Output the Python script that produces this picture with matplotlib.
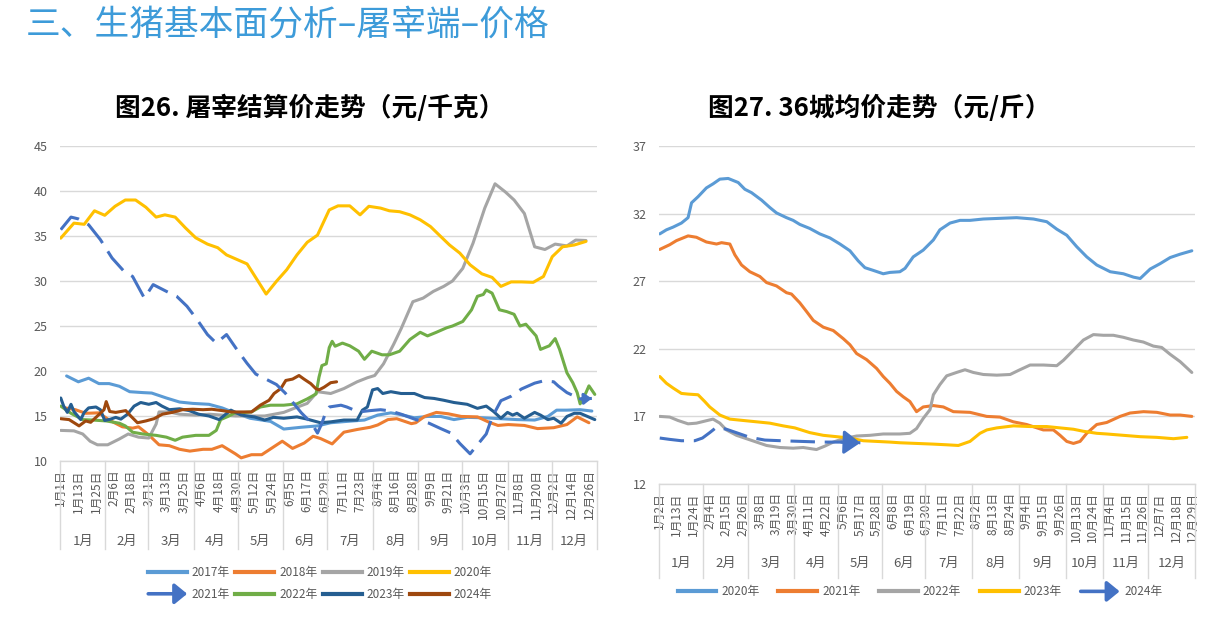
import matplotlib
matplotlib.use('Agg')
import matplotlib.pyplot as plt
from matplotlib.lines import Line2D
from matplotlib.patches import FancyArrowPatch
from matplotlib.legend_handler import HandlerBase

plt.rcParams['font.family'] = ['Noto Sans CJK SC', 'DejaVu Sans']

# ---------------- data: left chart (屠宰结算价, 元/千克) ----------------
left_tick_labels = ['1月1日', '1月13日', '1月25日', '2月6日', '2月18日', '3月1日', '3月13日', '3月25日',
                    '4月6日', '4月18日', '4月30日', '5月12日', '5月24日', '6月5日', '6月17日', '6月29日',
                    '7月11日', '7月23日', '8月4日', '8月16日', '8月28日', '9月9日', '9月21日', '10月3日',
                    '10月15日', '10月27日', '11月8日', '11月20日', '12月2日', '12月14日', '12月26日']
months = ['1月', '2月', '3月', '4月', '5月', '6月', '7月', '8月', '9月', '10月', '11月', '12月']
left_month_bounds = [0, 31, 60, 91, 121, 152, 182, 213, 244, 274, 305, 335, 366]

d2017 = [4, 12, 19, 26, 33, 40, 47, 56, 62, 72, 81, 90, 101, 110, 117, 129, 143, 152, 164, 175, 184, 195,
         207, 216, 225, 232, 241, 250, 259, 268, 277, 288, 300, 311, 323, 332, 338, 345, 354, 362]
v2017 = [19.45, 18.8, 19.2, 18.6, 18.6, 18.3, 17.7, 17.6, 17.55, 17.0, 16.55, 16.4, 16.3, 15.9, 15.45, 14.75,
         14.4, 13.55, 13.75, 13.9, 14.25, 14.4, 14.55, 15.1, 15.35, 15.15, 14.8, 14.95, 14.95, 14.6, 14.85,
         14.8, 14.7, 14.6, 14.55, 14.95, 15.65, 15.65, 15.7, 15.55]

d2018 = [3, 10, 17, 26, 33, 42, 49, 53, 60, 67, 74, 81, 88, 97, 103, 110, 119, 123, 130, 137, 144, 151, 158,
         166, 172, 177, 185, 193, 202, 211, 216, 223, 229, 239, 242, 248, 256, 264, 273, 284, 292, 298, 305,
         316, 325, 336, 345, 352, 360]
v2018 = [15.9, 15.7, 15.3, 15.35, 14.55, 13.8, 13.65, 13.8, 12.9, 11.8, 11.7, 11.3, 11.1, 11.3, 11.3, 11.7,
         10.8, 10.35, 10.7, 10.7, 11.45, 12.2, 11.4, 12.0, 12.75, 12.5, 11.9, 13.2, 13.5, 13.75, 14.0, 14.6,
         14.7, 14.15, 14.25, 14.95, 15.4, 15.25, 14.95, 14.9, 14.3, 13.95, 14.05, 13.95, 13.6, 13.7, 14.05,
         14.9, 14.25]

d2019 = [0, 9, 15, 20, 25, 32, 40, 46, 53, 60, 65, 67, 74, 81, 92, 101, 110, 119, 139, 152, 159, 168, 175,
         184, 193, 202, 209, 214, 220, 227, 232, 240, 247, 254, 261, 267, 274, 281, 289, 296, 303, 309, 316,
         323, 330, 337, 345, 351, 358]
v2019 = [13.4, 13.35, 13.0, 12.2, 11.8, 11.8, 12.45, 13.0, 12.65, 12.55, 14.1, 15.45, 15.45, 15.2, 15.1,
         15.2, 15.1, 15.0, 15.0, 15.4, 15.85, 16.4, 17.7, 17.5, 18.05, 18.8, 19.25, 19.5, 20.8, 23.0, 24.7,
         27.7, 28.1, 28.85, 29.4, 30.0, 31.4, 34.2, 38.1, 40.8, 39.9, 39.0, 37.5, 33.8, 33.5, 34.1, 33.9,
         34.55, 34.5]

d2020 = [0, 9, 16, 23, 30, 37, 44, 51, 58, 65, 71, 78, 85, 92, 100, 107, 113, 120, 127, 134, 140, 147, 154,
         161, 168, 175, 183, 189, 197, 204, 210, 218, 224, 231, 238, 245, 252, 258, 265, 272, 279, 287, 294,
         300, 307, 314, 322, 329, 335, 342, 350, 358]
v2020 = [34.76, 36.43, 36.3, 37.8, 37.3, 38.3, 39.0, 39.0, 38.2, 37.1, 37.35, 37.1, 35.9, 34.8, 34.1, 33.7,
         32.9, 32.4, 31.9, 30.1, 28.55, 29.96, 31.25, 32.9, 34.3, 35.1, 37.9, 38.35, 38.35, 37.35, 38.3, 38.1,
         37.8, 37.7, 37.35, 36.8, 36.05, 35.1, 34.0, 33.1, 31.8, 30.8, 30.4, 29.4, 29.9, 29.9, 29.85, 30.5,
         32.7, 33.8, 34.0, 34.4]

d2021 = [0, 7, 12, 19, 27, 35, 43, 49, 57, 63, 72, 79, 86, 93, 100, 106, 113, 120, 127, 133, 141, 147, 153,
         164, 171, 175, 178, 181, 183, 191, 195, 203, 211, 218, 225, 232, 242, 251, 259, 266, 272, 279, 284,
         290, 294, 300, 307, 314, 323, 329, 336, 339, 345, 354, 362]
v2021 = [35.7, 37.1, 36.9, 36.25, 34.6, 32.55, 31.1, 30.5, 28.1, 29.6, 28.85, 28.3, 27.2, 25.7, 24.05, 23.1,
         24.05, 22.4, 20.85, 19.65, 19.0, 18.5, 17.55, 15.35, 14.2, 13.1, 14.2, 15.6, 16.0, 16.2, 16.0, 15.45,
         15.6, 15.7, 15.55, 15.2, 14.6, 14.2, 13.6, 13.1, 11.95, 10.8, 11.8, 13.0, 14.85, 16.7, 17.2, 18.0,
         18.65, 18.9, 18.8, 18.35, 17.6, 16.9, 16.95]

d2022 = [0, 7, 15, 22, 31, 40, 44, 49, 56, 65, 72, 78, 83, 92, 101, 106, 109, 114, 118, 130, 136, 143, 152,
         161, 168, 174, 176, 178, 181, 183, 185, 187, 192, 197, 203, 207, 212, 219, 224, 231, 238, 245, 250,
         256, 263, 267, 274, 280, 284, 288, 290, 294, 299, 304, 309, 313, 317, 324, 327, 333, 337, 340, 345,
         349, 352, 354, 358, 360, 364]
v2022 = [16.1, 15.3, 14.6, 14.55, 14.45, 14.2, 13.9, 13.2, 13.0, 12.85, 12.65, 12.3, 12.65, 12.85, 12.85,
         13.4, 14.6, 14.95, 15.3, 15.45, 16.0, 16.2, 16.2, 16.35, 16.9, 17.45, 19.3, 20.6, 20.8, 22.6, 23.3,
         22.75, 23.1, 22.8, 22.2, 21.3, 22.2, 21.8, 21.8, 22.2, 23.5, 24.3, 23.9, 24.3, 24.8, 25.0, 25.5,
         26.8, 28.3, 28.5, 29.0, 28.65, 26.8, 26.6, 26.3, 25.0, 25.2, 23.9, 22.4, 22.8, 23.6, 22.4, 19.8,
         18.7, 17.6, 16.35, 17.6, 18.35, 17.4]

d2023 = [0, 2, 4.5, 7, 9, 13.6, 16, 19, 24, 27, 30, 34, 37.5, 41, 45.5, 50, 54.5, 60, 65, 69, 74, 81, 87.5,
         94, 101, 108, 112.5, 116, 123, 132, 139, 145, 152, 161, 168, 177, 184, 193, 202, 205.6, 209, 212.5,
         216, 219.5, 225, 232, 241, 248, 254.5, 261, 268, 277, 284, 290, 295, 300, 304.5, 308, 311, 316, 323,
         327, 332, 336, 341, 345, 350, 354, 359, 364]
v2023 = [17.0, 16.1, 15.4, 16.3, 15.5, 14.6, 15.4, 15.9, 16.0, 15.7, 14.5, 14.65, 14.85, 14.65, 15.2, 16.1,
         16.5, 16.3, 16.5, 16.1, 15.7, 15.8, 15.6, 15.2, 15.0, 14.6, 15.2, 15.65, 15.1, 14.9, 14.55, 14.85,
         14.75, 14.9, 14.65, 14.25, 14.35, 14.55, 14.55, 15.65, 16.0, 17.9, 18.05, 17.5, 17.7, 17.5, 17.5,
         17.05, 16.95, 16.75, 16.5, 16.3, 15.85, 16.1, 15.5, 14.75, 15.4, 15.1, 15.3, 14.75, 15.4, 15.1,
         14.6, 14.75, 14.2, 14.95, 15.3, 15.3, 14.95, 14.6]

d2024 = [0, 5.7, 12.5, 17, 20.4, 25, 29.5, 31, 33.4, 37.5, 44.3, 47.7, 52.3, 58, 63.6, 69.3, 76, 83, 90, 97,
         103, 110, 116, 123, 130, 136, 142, 145.4, 150, 153.4, 158, 162.4, 165.8, 170.4, 173.8, 176, 179.5,
         184, 188]
v2024 = [14.7, 14.6, 13.9, 14.45, 14.3, 15.0, 15.7, 16.6, 15.5, 15.4, 15.6, 15.0, 14.25, 14.45, 14.7, 15.2,
         15.4, 15.7, 15.75, 15.7, 15.75, 15.6, 15.45, 15.45, 15.45, 16.2, 16.75, 17.5, 18.05, 18.95, 19.1,
         19.5, 19.1, 18.6, 18.05, 17.9, 18.2, 18.7, 18.8]

# ---------------- data: right chart (36城均价, 元/斤) ----------------
right_tick_labels = ['1月2日', '1月13日', '1月24日', '2月4日', '2月15日', '2月26日', '3月8日', '3月19日',
                     '3月30日', '4月11日', '4月22日', '5月6日', '5月17日', '5月28日', '6月8日', '6月19日',
                     '6月30日', '7月11日', '7月22日', '8月2日', '8月13日', '8月24日', '9月4日', '9月15日',
                     '9月26日', '10月13日', '10月24日', '11月4日', '11月15日', '11月26日', '12月7日',
                     '12月18日', '12月29日']
right_month_bounds = [0, 29, 59, 89, 118, 147, 176, 207, 238, 269, 293, 323, 354]

r2020_x = [0, 4.4, 8.8, 14.3, 18.7, 21, 25.3, 30.8, 35.2, 39.7, 45.2, 51.8, 56.2, 60.6, 67.2, 72.7, 77.1,
           83.7, 88.1, 92.5, 99.1, 105.7, 112.4, 119, 125.6, 131.1, 135.5, 141, 147.6, 152, 158.6, 162,
           167.4, 174, 180.7, 185, 191.7, 198.3, 204.9, 213.7, 224.7, 235.7, 246.8, 255.6, 262.2, 268.8,
           275.4, 282, 288.6, 297.5, 306.2, 312.9, 317.3, 323.9, 330.5, 337.1, 343.7, 351.4]
r2020_v = [30.5, 30.8, 31.0, 31.3, 31.7, 32.8, 33.25, 33.9, 34.2, 34.55, 34.6, 34.3, 33.8, 33.55, 33.0,
           32.45, 32.05, 31.7, 31.5, 31.2, 30.9, 30.5, 30.2, 29.75, 29.25, 28.5, 28.0, 27.8, 27.55, 27.65,
           27.7, 27.95, 28.8, 29.3, 30.05, 30.8, 31.3, 31.5, 31.5, 31.6, 31.65, 31.7, 31.6, 31.4, 30.85,
           30.4, 29.55, 28.8, 28.2, 27.7, 27.55, 27.3, 27.2, 27.9, 28.3, 28.75, 29.0, 29.25]

r2021_x = [0, 6.6, 11, 18.7, 24.2, 30.8, 37.5, 40.8, 46.3, 49.6, 54, 59.5, 66.1, 70.5, 77.1, 83.7, 87,
           92.5, 97, 101.4, 108, 114.6, 121.2, 125.6, 130, 136.6, 143.2, 147.6, 152, 156.4, 160.8, 165.2,
           169.6, 174, 180.7, 187.3, 193.9, 204.9, 215.9, 224.7, 233.5, 242.3, 253.3, 260, 264.4, 268.8,
           273.2, 277.6, 282, 288.6, 295.2, 304, 310.6, 319.5, 328.3, 337.1, 343.7, 351.4]
r2021_v = [29.35, 29.7, 30.0, 30.35, 30.25, 29.9, 29.75, 29.85, 29.75, 28.95, 28.2, 27.7, 27.35, 26.9,
           26.65, 26.15, 26.05, 25.4, 24.75, 24.1, 23.6, 23.35, 22.75, 22.3, 21.65, 21.2, 20.55, 19.95,
           19.45, 18.85, 18.45, 18.1, 17.35, 17.7, 17.8, 17.7, 17.35, 17.3, 17.0, 16.95, 16.6, 16.4, 16.0,
           16.0, 15.6, 15.15, 15.0, 15.15, 15.75, 16.4, 16.55, 17.0, 17.25, 17.35, 17.3, 17.1, 17.1, 17.0]

r2022_x = [0, 6.6, 12, 18.7, 24.2, 29.7, 35.2, 39.7, 44, 50.7, 57.3, 63.9, 70.5, 79.3, 88.1, 94.7, 103.5,
           109, 114.6, 121.2, 130, 138.8, 147.6, 158.6, 165.2, 169.6, 174, 178.5, 180.7, 185, 189.5, 196,
           201.6, 207.1, 213.7, 222.6, 231.4, 236.9, 244.6, 253.4, 262.2, 266.6, 273.2, 279.8, 286.4, 293,
           299.6, 306.2, 312.8, 319.4, 326, 331.5, 337, 343.7, 351.4]
r2022_v = [17.0, 16.95, 16.7, 16.45, 16.5, 16.65, 16.8, 16.5, 16.0, 15.6, 15.35, 15.1, 14.85, 14.7, 14.65,
           14.7, 14.55, 14.8, 15.1, 15.35, 15.55, 15.6, 15.7, 15.7, 15.75, 16.1, 16.85, 17.5, 18.6, 19.35,
           20.0, 20.25, 20.45, 20.25, 20.1, 20.05, 20.1, 20.4, 20.8, 20.8, 20.75, 21.15, 21.9, 22.65, 23.05,
           23.0, 23.0, 22.85, 22.65, 22.5, 22.2, 22.1, 21.6, 21.05, 20.25]

r2023_x = [0, 4.4, 8.8, 14.3, 18.7, 25.3, 29.7, 33, 39.7, 46.3, 55, 63.9, 72.7, 81.5, 89.2, 99.1, 108,
           116.8, 125.6, 134.4, 143.2, 152, 158.6, 169.6, 180.7, 189.5, 197.2, 204.9, 211.5, 216, 222.6,
           233.6, 244.6, 255.6, 264.4, 273.2, 279.8, 288.6, 295.2, 306.2, 317.3, 328.3, 339.3, 348.1]
r2023_v = [19.95, 19.45, 19.1, 18.7, 18.65, 18.6, 18.1, 17.7, 17.1, 16.8, 16.7, 16.6, 16.5, 16.3, 16.15,
           15.8, 15.6, 15.5, 15.4, 15.2, 15.15, 15.1, 15.05, 15.0, 14.95, 14.9, 14.85, 15.15, 15.75, 16.0,
           16.15, 16.3, 16.25, 16.25, 16.15, 16.05, 15.9, 15.75, 15.7, 15.6, 15.5, 15.45, 15.35, 15.45]

r2024_x = [0, 6.6, 14.3, 23.1, 28.2, 33, 37.5, 44, 51.8, 59.5, 69.4, 80.4, 93.6, 106.8, 120, 132.5]
r2024_v = [15.4, 15.3, 15.2, 15.2, 15.4, 15.8, 16.2, 16.05, 15.75, 15.45, 15.25, 15.2, 15.15, 15.1, 15.1,
           15.05]

# ---------------- styling ----------------
W, H = 1217, 618
GRID = '#D9D9D9'
TXT = '#595959'
C_LB, C_OR, C_GR, C_YE = '#5B9BD5', '#ED7D31', '#A5A5A5', '#FFC000'
C_BL, C_GN, C_DB, C_BR = '#4472C4', '#70AD47', '#255E91', '#9E480E'
LW = 2.2
DASH = (0, (8, 3.2))

fig = plt.figure(figsize=(W / 100, H / 100), dpi=100)
fig.patch.set_facecolor('white')


def px_axes(x0, y_top, x1, y_bot):
    return fig.add_axes([x0 / W, 1 - y_bot / H, (x1 - x0) / W, (y_bot - y_top) / H])


def decorate(ax, n, ylim, yticks, tick_step, tick_labels, bounds, sep_px, month_px):
    ax.set_xlim(-0.5, n - 0.5)
    ax.set_ylim(*ylim)
    ax.set_yticks(yticks)
    ax.yaxis.grid(True, color=GRID, lw=1)
    ax.set_axisbelow(True)
    for s in ['left', 'right', 'top']:
        ax.spines[s].set_visible(False)
    ax.spines['bottom'].set_color(GRID)
    ax.spines['bottom'].set_linewidth(1)
    ax.tick_params(axis='y', length=0, labelsize=9, labelcolor=TXT, pad=9)
    ax.set_xticks(list(range(0, tick_step * len(tick_labels), tick_step)))
    ax.set_xticklabels(tick_labels, rotation=90, fontsize=8.5, color=TXT)
    ax.tick_params(axis='x', length=0, pad=6)
    axh = ax.get_position().height * H
    tr = ax.get_xaxis_transform()
    for b in bounds:
        ax.add_line(Line2D([b - 0.5, b - 0.5], [0, -sep_px / axh], transform=tr, color=GRID, lw=1,
                           clip_on=False))
    for i, m in enumerate(months):
        ax.text((bounds[i] + bounds[i + 1]) / 2 - 0.5, -month_px / axh, m, transform=tr, ha='center',
                va='center', fontsize=9.5, color=TXT)


def arrow_end(ax, xs, ys, color, scale):
    ax.annotate('', xy=(xs[-1], ys[-1]), xytext=(xs[-2], ys[-2]),
                arrowprops=dict(arrowstyle='-|>,head_length=0.55,head_width=0.4', color=color, lw=LW,
                                shrinkA=0, shrinkB=0, mutation_scale=scale))


class ArrowProxy:
    def __init__(self, color):
        self.color = color


class HandlerArrow(HandlerBase):
    def create_artists(self, legend, orig_handle, xdescent, ydescent, width, height, fontsize, trans):
        y = height / 2 - ydescent
        p = FancyArrowPatch((-xdescent, y), (-xdescent + width, y),
                            arrowstyle='-|>,head_length=0.55,head_width=0.45', mutation_scale=fontsize * 1.6,
                            color=orig_handle.color, lw=2.6, shrinkA=0, shrinkB=0, transform=trans)
        return [p]


# ---------------- header ----------------
fig.text(26 / W, 1 - 25 / H, '三、生猪基本面分析–屠宰端–价格', fontsize=25, color='#3D9BD9', ha='left',
         va='center')
fig.text(310 / W, 1 - 108 / H, '图26. 屠宰结算价走势（元/千克）', fontsize=18.5, fontweight='bold',
         ha='center', va='center', color='black')
fig.text(879 / W, 1 - 108 / H, '图27. 36城均价走势（元/斤）', fontsize=18.5, fontweight='bold',
         ha='center', va='center', color='black')

# ---------------- left chart ----------------
axL = px_axes(60, 146, 597, 461)
series_left = [('2017年', d2017, v2017, C_LB), ('2018年', d2018, v2018, C_OR), ('2019年', d2019, v2019, C_GR),
               ('2020年', d2020, v2020, C_YE), ('2022年', d2022, v2022, C_GN), ('2023年', d2023, v2023, C_DB),
               ('2024年', d2024, v2024, C_BR)]
handles_l = {}
for name, xs, ys, c in series_left:
    axL.plot(xs, ys, color=c, lw=LW, solid_joinstyle='round', solid_capstyle='round')
    handles_l[name] = Line2D([], [], color=c, lw=3)
axL.plot(d2021, v2021, color=C_BL, lw=LW, linestyle=DASH, dash_capstyle='butt')
arrow_end(axL, d2021, v2021, C_BL, 8)
decorate(axL, 366, (10, 45), range(10, 46, 5), 12, left_tick_labels, left_month_bounds, 88, 80)

arrow21 = ArrowProxy(C_BL)
order = ['2017年', '2021年', '2018年', '2022年', '2019年', '2023年', '2020年', '2024年']
hl = [arrow21 if k == '2021年' else handles_l[k] for k in order]
fig.legend(hl, order, ncol=4, loc='center', bbox_to_anchor=(320 / W, 1 - 583.5 / H), frameon=False,
           fontsize=8.5, handlelength=3.3, handletextpad=0.4, columnspacing=0.45, labelspacing=0.75,
           labelcolor=TXT, handler_map={ArrowProxy: HandlerArrow()})

# ---------------- right chart ----------------
axR = px_axes(659, 146, 1195, 484)
series_right = [('2020年', r2020_x, r2020_v, C_LB), ('2021年', r2021_x, r2021_v, C_OR),
                ('2022年', r2022_x, r2022_v, C_GR), ('2023年', r2023_x, r2023_v, C_YE)]
hr = []
for name, xs, ys, c in series_right:
    axR.plot(xs, ys, color=c, lw=LW, solid_joinstyle='round', solid_capstyle='round')
    hr.append(Line2D([], [], color=c, lw=3))
axR.plot(r2024_x, r2024_v, color=C_BL, lw=LW, linestyle=DASH, dash_capstyle='butt')
arrow_end(axR, r2024_x, r2024_v, C_BL, 18)
decorate(axR, 354, (12, 37), range(12, 38, 5), 11, right_tick_labels, right_month_bounds, 94, 79)
hr.append(ArrowProxy(C_BL))
fig.legend(hr, ['2020年', '2021年', '2022年', '2023年', '2024年'], ncol=5, loc='center',
           bbox_to_anchor=(920 / W, 1 - 592 / H), frameon=False, fontsize=8.5, handlelength=3.3,
           handletextpad=0.4, columnspacing=1.6, labelcolor=TXT,
           handler_map={ArrowProxy: HandlerArrow()})

fig.savefig('out.png', dpi=100, facecolor='white')
